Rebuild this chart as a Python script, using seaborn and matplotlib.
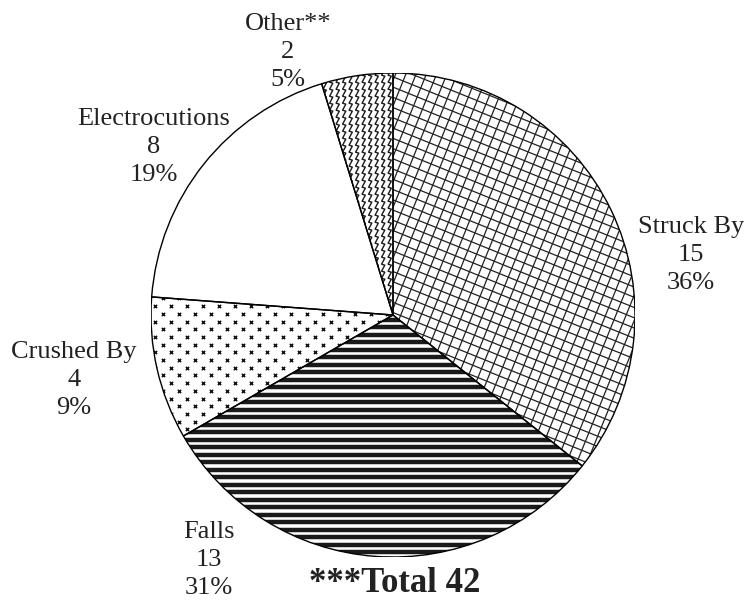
import numpy as np
import matplotlib
matplotlib.use("Agg")
import matplotlib.pyplot as plt
import seaborn as sns
from matplotlib.collections import LineCollection
from matplotlib.patches import Wedge

# ---- data ----
categories = ["Struck By", "Falls", "Crushed By", "Electrocutions", "Other**"]
counts = [15, 13, 4, 8, 2]
percents = ["36%", "31%", "9%", "19%", "5%"]
total_label = "***Total 42"

sns.set_theme(style="white")
plt.rcParams['font.family'] = ['Liberation Serif', 'DejaVu Serif']

W, H = 748, 602
fig = plt.figure(figsize=(W / 100, H / 100), dpi=100)
fig.patch.set_facecolor("white")
cx, cy, R = 393, 315, 242
ax = fig.add_axes([(cx - R) / W, (H - cy - R) / H, 2 * R / W, 2 * R / H])
wedges, _ = ax.pie(counts, startangle=90, counterclock=False,
                   colors=["white"] * len(counts),
                   wedgeprops=dict(edgecolor="none", linewidth=0))
ax.set_xlim(-1, 1)
ax.set_ylim(-1, 1)
ax.axis("off")
px = 1.0 / R  # data units per pixel


def line_family(angle_deg, spacing):
    a = np.deg2rad(angle_deg)
    d = np.array([np.cos(a), np.sin(a)])
    n = np.array([-np.sin(a), np.cos(a)])
    segs = []
    for t in np.arange(-1.6, 1.6, spacing):
        p = t * n
        segs.append([p - 1.6 * d, p + 1.6 * d])
    return segs


# Struck By: rotated cross-hatch
segs = line_family(-22, 9.5 * px) + line_family(68, 9.5 * px)
lc = LineCollection(segs, colors="#222222", linewidths=0.9, zorder=2)
ax.add_collection(lc)
lc.set_clip_path(wedges[0])

# Falls: thick horizontal stripes
segs = line_family(0, 7.5 * px)
lc = LineCollection(segs, colors="#1a1a1a", linewidths=3.2, zorder=2)
ax.add_collection(lc)
lc.set_clip_path(wedges[1])

# Crushed By: staggered small crosses
xs, ys = [], []
for i, yv in enumerate(np.arange(-0.6, 0.3, 7.7 * px)):
    off = 0 if i % 2 == 0 else 8 * px
    for xv in np.arange(-1.05, 0.1, 16 * px):
        xs.append(xv + off)
        ys.append(yv)
sc = ax.scatter(xs, ys, marker="x", s=6, linewidths=1.0, color="#111111", zorder=2)
sc.set_clip_path(wedges[2])

# Other: vertical zigzags (sawtooth)
segs = []
n_pts = int(1.05 / (4.5 * px)) * 2 + 2
for x0 in np.arange(-0.45, 0.05, 6.5 * px):
    yy = [1.02]
    xx = [x0]
    for k in range(n_pts):
        if k % 2 == 0:
            xx.append(x0 + 3.2 * px)
            yy.append(yy[-1] - 1.0 * px)
        else:
            xx.append(x0)
            yy.append(yy[-1] - 6.0 * px)
    segs.append(np.column_stack([xx, yy]))
lc = LineCollection(segs, colors="#1a1a1a", linewidths=1.0, zorder=2)
ax.add_collection(lc)
lc.set_clip_path(wedges[4])

# edges on top
for w in wedges:
    ax.add_patch(Wedge(w.center, w.r, w.theta1, w.theta2, fill=False,
                       edgecolor="black", linewidth=1.0, zorder=5))

# labels
label_pos = {
    "Struck By": (691, 233),
    "Falls": (209, 538),
    "Crushed By": (74, 358),
    "Electrocutions": (154, 125),
    "Other**": (288, 30),
}
step = 28
for cat, cnt, pct in zip(categories, counts, percents):
    x, y = label_pos[cat]
    for k, s in enumerate([cat, str(cnt), pct]):
        fig.text(x / W, 1 - (y + k * step) / H, s, ha="center", va="baseline",
                 fontsize=19, color="#222222")

fig.text(395 / W, 1 - 592 / H, total_label, ha="center", va="baseline",
         fontsize=25, fontweight="bold", color="#222222")

fig.savefig("out.png", dpi=100)
